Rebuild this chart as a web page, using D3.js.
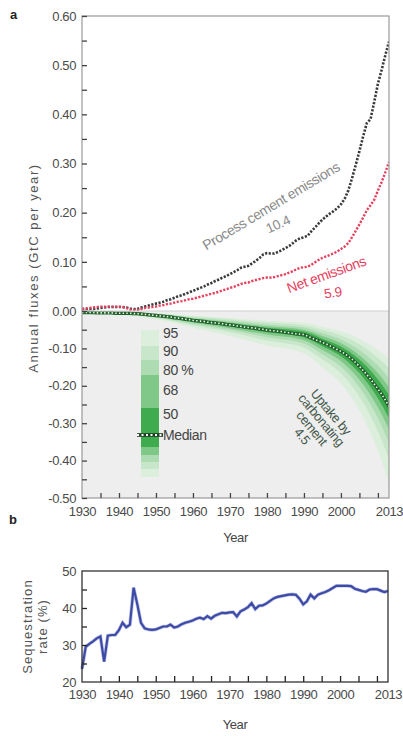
<!DOCTYPE html>
<html><head><meta charset="utf-8">
<script src="https://cdn.jsdelivr.net/npm/d3@7"></script>
<style>
body{margin:0;background:#fff;}
svg text{font-family:"Liberation Sans Narrow","Liberation Sans",Arial,sans-serif;font-stretch:condensed;letter-spacing:-0.4px;}
</style></head><body>
<svg id="chart" width="403" height="736"></svg>
<script>
// years 1930..2013, one value per year
const years = d3.range(1930, 2014);

const processEmissions = [
  0.004,0.004,0.004,0.004,0.005,0.006,0.007,0.008,0.008,0.008,
  0.008,0.008,0.007,0.005,0.004,0.004,0.007,0.009,0.011,0.013,
  0.015,0.017,0.019,0.022,0.024,0.027,0.030,0.032,0.035,0.038,
  0.041,0.044,0.047,0.050,0.054,0.057,0.061,0.064,0.068,0.071,
  0.075,0.079,0.083,0.088,0.090,0.092,0.097,0.102,0.108,0.115,
  0.118,0.117,0.117,0.120,0.124,0.128,0.132,0.138,0.144,0.148,
  0.150,0.153,0.162,0.170,0.178,0.186,0.192,0.198,0.203,0.209,
  0.217,0.228,0.245,0.270,0.297,0.325,0.355,0.382,0.390,0.425,
  0.462,0.490,0.520,0.548];

const netEmissions = [
  0.004,0.005,0.006,0.007,0.008,0.009,0.009,0.009,0.009,0.009,
  0.009,0.008,0.006,0.003,0.002,0.002,0.004,0.006,0.007,0.008,
  0.009,0.011,0.012,0.014,0.015,0.017,0.019,0.020,0.022,0.024,
  0.025,0.027,0.029,0.031,0.033,0.035,0.037,0.039,0.042,0.044,
  0.047,0.049,0.052,0.055,0.057,0.058,0.061,0.063,0.065,0.067,
  0.068,0.068,0.069,0.071,0.073,0.075,0.078,0.081,0.085,0.088,
  0.089,0.090,0.094,0.099,0.104,0.108,0.111,0.114,0.117,0.121,
  0.126,0.131,0.138,0.150,0.163,0.176,0.190,0.205,0.215,0.226,
  0.245,0.262,0.282,0.303];

const uptakeMedian = [
  -0.004,-0.004,-0.004,-0.004,-0.005,-0.005,-0.005,-0.005,-0.005,-0.006,
  -0.006,-0.006,-0.006,-0.006,-0.007,-0.007,-0.008,-0.009,-0.010,-0.011,
  -0.012,-0.013,-0.014,-0.015,-0.016,-0.018,-0.019,-0.020,-0.022,-0.023,
  -0.025,-0.026,-0.027,-0.028,-0.030,-0.031,-0.032,-0.033,-0.034,-0.036,
  -0.037,-0.038,-0.040,-0.041,-0.043,-0.044,-0.045,-0.046,-0.048,-0.049,
  -0.051,-0.052,-0.053,-0.054,-0.055,-0.057,-0.058,-0.060,-0.061,-0.062,
  -0.063,-0.067,-0.072,-0.076,-0.080,-0.084,-0.088,-0.093,-0.098,-0.103,
  -0.108,-0.114,-0.121,-0.129,-0.138,-0.148,-0.159,-0.170,-0.182,-0.195,
  -0.208,-0.222,-0.238,-0.255];

// uncertainty bands of the uptake, read at a few years
const bandYears = [1930,1940,1950,1960,1970,1980,1990,1995,2000,2005,2010,2013];
const hi95 = [-0.002,-0.003,-0.006,-0.013,-0.019,-0.026,-0.031,-0.042,-0.054,-0.074,-0.104,-0.128];
const lo95 = [-0.007,-0.011,-0.022,-0.045,-0.067,-0.092,-0.113,-0.151,-0.194,-0.266,-0.374,-0.459];
const hi90 = [-0.002,-0.004,-0.007,-0.015,-0.022,-0.031,-0.038,-0.050,-0.065,-0.089,-0.125,-0.153];
const lo90 = [-0.006,-0.009,-0.019,-0.039,-0.057,-0.079,-0.098,-0.130,-0.167,-0.229,-0.322,-0.395];
const hi80 = [-0.003,-0.004,-0.008,-0.018,-0.026,-0.036,-0.044,-0.059,-0.076,-0.104,-0.146,-0.179];
const lo80 = [-0.006,-0.008,-0.017,-0.035,-0.051,-0.070,-0.087,-0.116,-0.149,-0.204,-0.287,-0.352];
const hi68 = [-0.003,-0.005,-0.010,-0.020,-0.030,-0.041,-0.050,-0.067,-0.086,-0.118,-0.166,-0.204];
const lo68 = [-0.005,-0.007,-0.015,-0.031,-0.046,-0.063,-0.078,-0.104,-0.134,-0.184,-0.258,-0.316];
const hi50 = [-0.004,-0.005,-0.011,-0.022,-0.033,-0.045,-0.055,-0.074,-0.095,-0.130,-0.183,-0.224];
const lo50 = [-0.004,-0.007,-0.013,-0.028,-0.041,-0.057,-0.071,-0.094,-0.121,-0.166,-0.233,-0.286];

const seqRate = [
  23.5,29.5,30.3,31.0,31.8,32.3,25.5,32.5,32.7,32.7,
  34.0,36.0,34.8,35.5,45.5,41.0,36.0,34.5,34.2,34.1,
  34.2,34.6,35.0,35.0,35.5,34.7,35.0,35.6,36.0,36.3,
  36.6,37.1,37.4,37.0,37.8,37.1,37.9,38.3,38.7,38.6,
  38.8,38.9,37.7,39.1,39.6,40.2,41.3,39.7,40.6,40.7,
  41.2,41.9,42.6,43.0,43.2,43.4,43.6,43.7,43.6,42.5,
  41.0,41.8,43.6,42.6,43.6,44.0,44.3,44.8,45.4,46.0,
  46.0,46.0,46.0,45.9,45.2,44.9,44.6,44.4,45.0,45.1,
  45.1,44.7,44.3,44.6];

const yearLabels = [1930,1940,1950,1960,1970,1980,1990,2000,2013];
const yearTicks = d3.range(1935, 2011, 5);
const fluxLabels = [-0.5,-0.4,-0.3,-0.2,-0.1,0,0.1,0.2,0.3,0.4,0.5,0.6];
const fluxMinor = [-0.45,-0.35,-0.25,-0.15,-0.05,0.05,0.15,0.25,0.35,0.45,0.55];
const rateLabels = [20,30,40,50];
const rateTicks = [25,30,35,40,45];

const bands = [
  {name:"95", lo:lo95, hi:hi95, color:"#dcefdc"},
  {name:"90", lo:lo90, hi:hi90, color:"#c8e7ca"},
  {name:"80", lo:lo80, hi:hi80, color:"#aedcb2"},
  {name:"68", lo:lo68, hi:hi68, color:"#7fc888"},
  {name:"50", lo:lo50, hi:hi50, color:"#3fab4f"}
];

const svg = d3.select("#chart");
const tickColor = "#444";

// ---------- panel a ----------
const xA = d3.scaleLinear().domain([1930, 2013]).range([82, 389]);
const yA = d3.scaleLinear().domain([-0.5, 0, 0.6]).range([498, 311, 16]);

svg.append("rect")
  .attr("x", xA(1930)).attr("y", yA(0))
  .attr("width", xA(2013) - xA(1930)).attr("height", yA(-0.5) - yA(0))
  .attr("fill", "#eeeeee");

svg.append("defs").append("clipPath").attr("id", "clipA")
  .append("rect").attr("x", xA(1930)).attr("y", yA(0.6))
  .attr("width", xA(2013) - xA(1930)).attr("height", yA(-0.5) - yA(0.6));

const gA = svg.append("g").attr("clip-path", "url(#clipA)");

bands.forEach(b => {
  const area = d3.area()
    .x((d, i) => xA(bandYears[i]))
    .y0((d, i) => yA(b.lo[i]))
    .y1((d, i) => yA(b.hi[i]))
    .curve(d3.curveMonotoneX);
  gA.append("path").datum(bandYears).attr("d", area).attr("fill", b.color);
});

svg.append("line")
  .attr("x1", xA(1930)).attr("x2", xA(2013))
  .attr("y1", yA(0)).attr("y2", yA(0))
  .attr("stroke", "#cfcfcf").attr("stroke-width", 1);

const lineA = vals => d3.line().x((d, i) => xA(years[i])).y(d => yA(d))(vals);

// median uptake: dark line with white dots
gA.append("path").attr("d", lineA(uptakeMedian))
  .attr("fill", "none").attr("stroke", "#22622c").attr("stroke-width", 3.4);
gA.append("path").attr("d", lineA(uptakeMedian))
  .attr("fill", "none").attr("stroke", "#f4fbf2").attr("stroke-width", 1.6)
  .attr("stroke-dasharray", "1.4,2.3");

gA.append("path").attr("d", lineA(processEmissions))
  .attr("fill", "none").attr("stroke", "#3a3a3a").attr("stroke-width", 2.6)
  .attr("stroke-dasharray", "2.2,1.5");

gA.append("path").attr("d", lineA(netEmissions))
  .attr("fill", "none").attr("stroke", "#e5415e").attr("stroke-width", 2.4)
  .attr("stroke-dasharray", "2.2,1.5");

// frame
svg.append("rect")
  .attr("x", xA(1930)).attr("y", yA(0.6))
  .attr("width", xA(2013) - xA(1930)).attr("height", yA(-0.5) - yA(0.6))
  .attr("fill", "none").attr("stroke", "#999").attr("stroke-width", 1.2);

const fmt = d => d3.format(".2f")(d).replace("\u2212", "-");
svg.append("g").attr("transform", `translate(${xA(1930)},0)`)
  .call(d3.axisLeft(yA).tickValues(fluxLabels).tickSize(-5).tickPadding(6).tickFormat(fmt));
svg.append("g").attr("transform", `translate(${xA(1930)},0)`)
  .call(d3.axisLeft(yA).tickValues(fluxMinor).tickSize(-5).tickFormat(""));
svg.append("g").attr("transform", `translate(0,${yA(-0.5)})`)
  .call(d3.axisBottom(xA).tickValues(yearLabels).tickSize(0).tickPadding(9).tickFormat(d3.format("d")));
svg.append("g").attr("transform", `translate(0,${yA(-0.5)})`)
  .call(d3.axisBottom(xA).tickValues(yearTicks).tickSize(-5).tickFormat(""));

svg.selectAll(".domain").remove();
svg.selectAll(".tick line").attr("stroke", tickColor).attr("stroke-width", 1.3);
svg.selectAll(".tick text").attr("fill", "#4a4a4a").attr("font-size", 13);

svg.append("text").attr("x", 10).attr("y", 19).text("a")
  .attr("font-weight", "bold").attr("font-size", 13).attr("fill", "#222");
svg.append("text")
  .attr("transform", `translate(38,${268}) rotate(-90)`)
  .attr("text-anchor", "middle").attr("font-size", 13).attr("fill", "#555")
  .style("letter-spacing", "1.6px")
  .text("Annual fluxes (GtC per year)");
svg.append("text").attr("x", (xA(1930) + xA(2013)) / 2).attr("y", 542)
  .attr("text-anchor", "middle").attr("font-size", 13).attr("fill", "#444").text("Year");

// annotations
svg.append("text")
  .attr("transform", `translate(${xA(1981.8)},${yA(0.205)}) rotate(-31)`)
  .attr("text-anchor", "middle").attr("font-size", 14).attr("fill", "#8a8a8a")
  .text("Process cement emissions");
svg.append("text")
  .attr("transform", `translate(${xA(1983.5)},${yA(0.168)}) rotate(-24)`)
  .attr("text-anchor", "middle").attr("font-size", 13.5).attr("fill", "#8a8a8a")
  .text("10.4");
svg.append("text")
  .attr("transform", `translate(${xA(1996.5)},${yA(0.065)}) rotate(-20)`)
  .attr("text-anchor", "middle").attr("font-size", 14).attr("fill", "#e5415e")
  .text("Net emissions");
svg.append("text")
  .attr("transform", `translate(${xA(1998)},${yA(0.028)}) rotate(-8)`)
  .attr("text-anchor", "middle").attr("font-size", 13.5).attr("fill", "#e5415e")
  .text("5.9");

const uptakeLabel = ["Uptake by", "carbonating", "cement", "4.5"];
svg.append("text")
  .attr("transform", `translate(${xA(1992.5)},${yA(-0.31)}) rotate(50)`)
  .attr("text-anchor", "middle").attr("font-size", 13).attr("fill", "#44584a")
  .selectAll("tspan").data(uptakeLabel).join("tspan")
  .attr("x", 0).attr("y", (d, i) => (i - 1.5) * 12.5)
  .text(d => d);

// legend for percentile bands
const legendBlocks = [
  {band:"95", y0:330, y1:346}, {band:"90", y0:346, y1:360}, {band:"80", y0:360, y1:375},
  {band:"68", y0:375, y1:408}, {band:"50", y0:408, y1:447}, {band:"68", y0:447, y1:455},
  {band:"80", y0:455, y1:462}, {band:"90", y0:462, y1:469}, {band:"95", y0:469, y1:477}
];
const bandColor = Object.fromEntries(bands.map(b => [b.name, b.color]));
svg.append("g").selectAll("rect").data(legendBlocks).join("rect")
  .attr("x", 141).attr("width", 18)
  .attr("y", d => d.y0).attr("height", d => d.y1 - d.y0)
  .attr("fill", d => bandColor[d.band]);
svg.append("line").attr("x1", 137).attr("x2", 163).attr("y1", 435).attr("y2", 435)
  .attr("stroke", "#1f3d22").attr("stroke-width", 3.6);
svg.append("line").attr("x1", 137).attr("x2", 163).attr("y1", 435).attr("y2", 435)
  .attr("stroke", "#fff").attr("stroke-width", 1.8).attr("stroke-dasharray", "2,2.5");
const legendLabels = [
  {t:"95", y:333}, {t:"90", y:351}, {t:"80  %", y:370}, {t:"68", y:390}, {t:"50", y:414}, {t:"Median", y:435}
];
svg.append("g").selectAll("text").data(legendLabels).join("text")
  .attr("x", 163).attr("y", d => d.y).attr("dy", "0.35em")
  .attr("font-size", 14).attr("fill", "#444").text(d => d.t);

// ---------- panel b ----------
const xB = d3.scaleLinear().domain([1930, 2013]).range([82, 388]);
const yB = d3.scaleLinear().domain([20, 50]).range([682, 571]);

svg.append("path")
  .attr("d", d3.line().x((d, i) => xB(years[i])).y(d => yB(d))(seqRate))
  .attr("fill", "none").attr("stroke", "#8e98d4").attr("stroke-width", 3.6).attr("opacity", 0.6);
svg.append("path")
  .attr("d", d3.line().x((d, i) => xB(years[i])).y(d => yB(d))(seqRate))
  .attr("fill", "none").attr("stroke", "#3d4aa6").attr("stroke-width", 2.2);

const gB = svg.append("g");
gB.append("g").attr("transform", `translate(${xB(1930)},0)`)
  .call(d3.axisLeft(yB).tickValues(rateLabels).tickSize(0).tickPadding(6).tickFormat(d3.format("d")));
gB.append("g").attr("transform", `translate(${xB(1930)},0)`)
  .call(d3.axisLeft(yB).tickValues(rateTicks).tickSize(-5).tickFormat(""));
gB.append("g").attr("transform", `translate(0,${yB(20)})`)
  .call(d3.axisBottom(xB).tickValues(yearLabels).tickSize(0).tickPadding(8).tickFormat(d3.format("d")));
gB.append("g").attr("transform", `translate(0,${yB(20)})`)
  .call(d3.axisBottom(xB).tickValues(yearTicks).tickSize(-6).tickFormat(""));
gB.selectAll(".domain").remove();
gB.selectAll(".tick line").attr("stroke", "#222").attr("stroke-width", 1.3);
gB.selectAll(".tick text").attr("fill", "#4a4a4a").attr("font-size", 13);

svg.append("rect")
  .attr("x", xB(1930)).attr("y", yB(50))
  .attr("width", xB(2013) - xB(1930)).attr("height", yB(20) - yB(50))
  .attr("fill", "none").attr("stroke", "#333").attr("stroke-width", 1.3);

svg.append("text").attr("x", 9).attr("y", 524).text("b")
  .attr("font-weight", "bold").attr("font-size", 13).attr("fill", "#222");
svg.append("text")
  .attr("transform", `translate(35,${yB(35)}) rotate(-90)`)
  .attr("text-anchor", "middle").attr("font-size", 13).attr("fill", "#555")
  .style("letter-spacing", "1.1px")
  .selectAll("tspan").data(["Sequestration", "rate (%)"]).join("tspan")
  .attr("x", 0).attr("y", (d, i) => i * 15 - 3)
  .text(d => d);
svg.append("text").attr("x", (xB(1930) + xB(2013)) / 2).attr("y", 729)
  .attr("text-anchor", "middle").attr("font-size", 13).attr("fill", "#444").text("Year");
</script>
</body></html>
